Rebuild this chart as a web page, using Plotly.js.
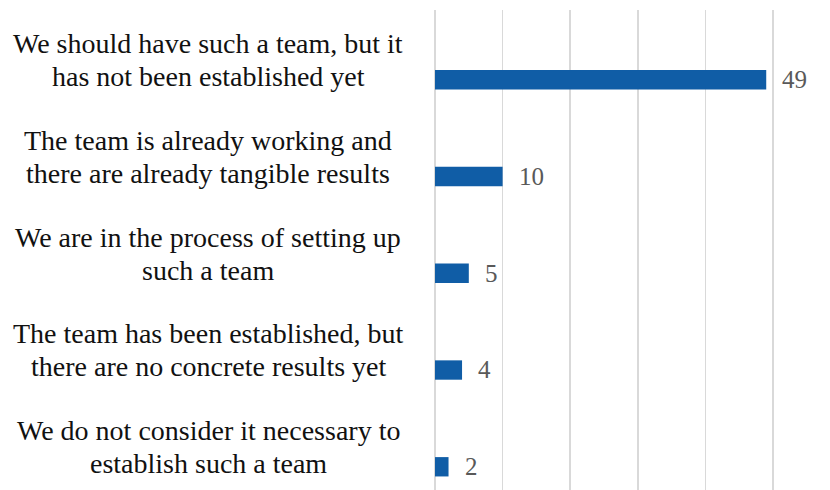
<!DOCTYPE html>
<html>
<head>
<meta charset="utf-8">
<script src="https://cdn.plot.ly/plotly-3.0.1.min.js"></script>
<style>
  html, body { margin: 0; padding: 0; background: #ffffff; }
  #chart { width: 830px; height: 490px; }
</style>
</head>
<body>
<div id="chart"></div>
<script>
// ---- data ----
const categories = [
  "We should have such a team, but it<br>has not been established yet",
  "The team is already working and<br>there are already tangible results",
  "We are in the process of setting up<br>such a team",
  "The team has been established, but<br>there are no concrete results yet",
  "We do not consider it necessary to<br>establish such a team"
];
const values = [49, 10, 5, 4, 2];
const xTicks = [0, 10, 20, 30, 40, 50];

// ---- styling ----
const FONT = "'Liberation Serif', 'DejaVu Serif', serif";
const BAR_COLOR = "#105DA6";
const LINE_GAP = 33;      // px between label lines
const BAR_DROP = 19.7;    // px bar centre sits below label centre

const trace = {
  type: "bar",
  orientation: "h",
  y: categories,
  x: values,
  width: 0.2,
  offset: 0.104,
  marker: { color: BAR_COLOR, line: { width: 0 } },
  hoverinfo: "none"
};

const annotations = [];
categories.forEach((cat, i) => {
  const lines = cat.split("<br>");
  const n = lines.length;
  lines.forEach((ln, j) => {
    annotations.push({
      xref: "paper", yref: "y",
      x: -0.664, y: cat,
      xanchor: "center", yanchor: "middle",
      yshift: ((n - 1) / 2 - j) * LINE_GAP,
      text: ln, showarrow: false,
      font: { family: FONT, size: 28, color: "#111111" }
    });
  });
  annotations.push({
    xref: "x", yref: "y",
    x: values[i], y: cat,
    xanchor: "left", yanchor: "middle",
    xshift: 14, yshift: -BAR_DROP,
    text: String(values[i]), showarrow: false,
    font: { family: FONT, size: 25, color: "#595959" }
  });
});

const layout = {
  width: 830, height: 490,
  margin: { l: 433.5, r: 55.5, t: 10, b: 0 },
  paper_bgcolor: "#ffffff",
  plot_bgcolor: "#ffffff",
  showlegend: false,
  xaxis: {
    range: [-0.15, 50.15],
    tickvals: xTicks,
    showticklabels: false,
    showgrid: true,
    gridcolor: "#d9d9d9",
    gridwidth: 1.6,
    zeroline: false,
    showline: false,
    ticks: "",
    fixedrange: true
  },
  yaxis: {
    type: "category",
    categoryorder: "array",
    categoryarray: categories,
    range: [4.444, -0.517],
    showticklabels: false,
    showgrid: false,
    zeroline: false,
    showline: false,
    ticks: "",
    fixedrange: true
  },
  annotations: annotations
};

Plotly.newPlot("chart", [trace], layout, { displayModeBar: false, staticPlot: true });
</script>
</body>
</html>
